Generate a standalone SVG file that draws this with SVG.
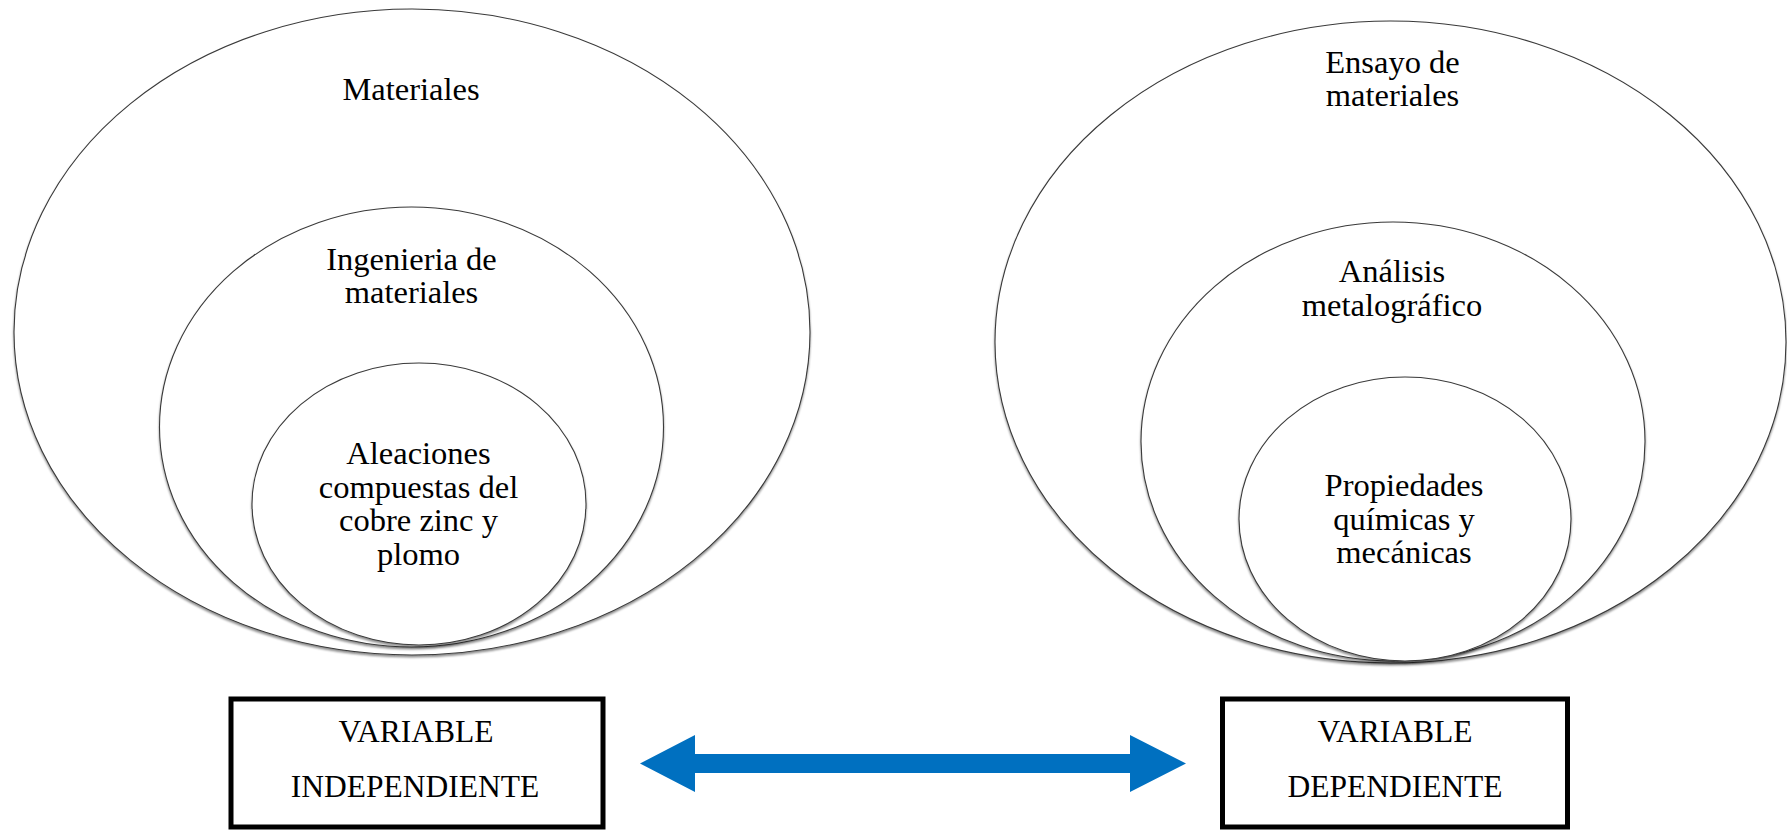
<svg xmlns="http://www.w3.org/2000/svg" width="1787" height="830" viewBox="0 0 1787 830">
<style>
.e{fill:#fff;stroke:#3a3a3a;stroke-width:1.1;filter:url(#sh)}
.t{font-family:"Liberation Serif","Times New Roman",serif;font-size:32.5px;fill:#000;text-anchor:middle}
.v{font-family:"Liberation Serif","Times New Roman",serif;font-size:31.5px;fill:#000;text-anchor:middle}
.b{fill:#fff;stroke:#000;stroke-width:5}
</style>
<defs>
<filter id="sh" x="-5%" y="-5%" width="110%" height="112%">
<feDropShadow dx="0" dy="2" stdDeviation="1.2" flood-color="#000" flood-opacity="0.45"/>
</filter>
</defs>
<rect width="1787" height="830" fill="#fff"/>
<g id="materiales"><ellipse class="e" cx="412" cy="332" rx="398" ry="323"/><text class="t" x="411" y="100">Materiales</text></g>
<g id="ingenieria"><ellipse class="e" cx="411.5" cy="427" rx="252" ry="220"/><text class="t" x="411.5" y="270">Ingenieria de</text><text class="t" x="411.5" y="303">materiales</text></g>
<g id="aleaciones"><ellipse class="e" cx="419" cy="504" rx="167" ry="141"/><text class="t" x="418.5" y="464">Aleaciones</text><text class="t" x="418.5" y="497.5">compuestas del</text><text class="t" x="418.5" y="531">cobre zinc y</text><text class="t" x="418.5" y="564.5">plomo</text></g>
<g id="ensayo"><ellipse class="e" cx="1390.5" cy="342" rx="395.5" ry="321"/><text class="t" x="1392.5" y="73">Ensayo de</text><text class="t" x="1392.5" y="106">materiales</text></g>
<g id="analisis"><ellipse class="e" cx="1393" cy="441.5" rx="252" ry="219.5"/><text class="t" x="1392" y="282">Análisis</text><text class="t" x="1392" y="316">metalográfico</text></g>
<g id="propiedades"><ellipse class="e" cx="1405" cy="519" rx="166" ry="142"/><text class="t" x="1404" y="496">Propiedades</text><text class="t" x="1404" y="529.5">químicas y</text><text class="t" x="1404" y="563">mecánicas</text></g>
<g id="var-independiente"><rect class="b" x="231" y="699" width="372" height="128"/><text class="v" x="416" y="742">VARIABLE</text><text class="v" x="415" y="797">INDEPENDIENTE</text></g>
<g id="var-dependiente"><rect class="b" x="1222.5" y="699" width="345" height="128"/><text class="v" x="1395" y="742">VARIABLE</text><text class="v" x="1395" y="797">DEPENDIENTE</text></g>
<g id="connectors"><polygon fill="#0070C0" points="640,763.5 695,735 695,754 1130,754 1130,735 1186,763.5 1130,792 1130,773 695,773 695,792"/></g>
</svg>
